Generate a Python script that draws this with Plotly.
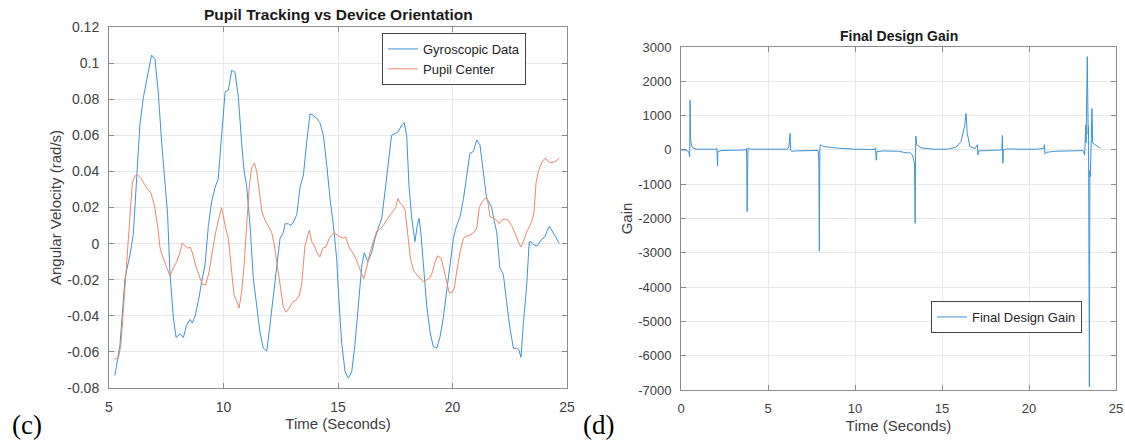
import plotly.graph_objects as go

# ---------------- data ----------------
gyro_t = [5.26, 5.48, 5.70, 5.92, 6.06, 6.21, 6.35, 6.50, 6.64, 6.79, 6.86, 7.01, 7.15, 7.30, 7.45, 7.56,
          7.66, 7.81, 7.93, 8.10, 8.25, 8.39, 8.54, 8.64, 8.76, 8.90, 9.05, 9.19, 9.34, 9.48, 9.63, 9.77,
          9.92, 10.07, 10.21, 10.36, 10.50, 10.65, 10.79, 10.90, 11.01, 11.16, 11.30, 11.45, 11.59, 11.74,
          11.89, 12.03, 12.17, 12.32, 12.47, 12.61, 12.69, 12.83, 12.95, 13.05, 13.20, 13.34, 13.49, 13.63,
          13.78, 13.92, 14.07, 14.21, 14.36, 14.51, 14.65, 14.80, 14.94, 15.01, 15.16, 15.31, 15.45, 15.60,
          15.74, 15.89, 16.04, 16.15, 16.30, 16.47, 16.62, 16.76, 16.91, 17.05, 17.20, 17.34, 17.49, 17.63,
          17.78, 17.89, 18.00, 18.10, 18.22, 18.36, 18.46, 18.54, 18.62, 18.73, 18.87, 19.02, 19.16, 19.31,
          19.45, 19.60, 19.75, 19.89, 20.04, 20.18, 20.33, 20.48, 20.62, 20.76, 20.91, 21.06, 21.20, 21.35,
          21.49, 21.61, 21.71, 21.83, 21.93, 22.07, 22.22, 22.36, 22.51, 22.66, 22.80, 22.90, 22.99, 23.09,
          23.24, 23.35, 23.43, 23.56, 23.70, 23.82, 23.94, 24.04, 24.11, 24.23, 24.40, 24.55, 24.67]
gyro_v = [-0.073, -0.056, -0.019, -0.006, 0.005, 0.038, 0.066, 0.081, 0.090, 0.099, 0.1045, 0.102, 0.084,
          0.056, 0.031, 0.016, -0.016, -0.041, -0.052, -0.050, -0.052, -0.045, -0.042, -0.044, -0.040,
          -0.032, -0.021, -0.012, 0.010, 0.023, 0.031, 0.036, 0.060, 0.084, 0.085, 0.096, 0.095, 0.081,
          0.056, 0.040, 0.032, 0.010, -0.019, -0.036, -0.049, -0.058, -0.0595, -0.045, -0.030, -0.012,
          0.003, 0.006, 0.011, 0.011, 0.010, 0.012, 0.016, 0.031, 0.038, 0.056, 0.072, 0.071, 0.0695,
          0.067, 0.060, 0.0435, 0.025, 0.010, -0.008, -0.025, -0.055, -0.071, -0.0745, -0.071, -0.056,
          -0.034, -0.012, -0.005, -0.010, -0.005, 0.003, 0.0086, 0.014, 0.0286, 0.0435, 0.060, 0.061,
          0.062, 0.0657, 0.067, 0.060, 0.032, 0.014, 0.001, 0.010, 0.014, 0.006, -0.012, -0.034, -0.049,
          -0.057, -0.058, -0.052, -0.041, -0.027, -0.014, 0.003, 0.010, 0.015, 0.025, 0.038, 0.050, 0.051,
          0.0574, 0.0546, 0.040, 0.025, 0.0225, 0.020, 0.012, 0.0065, -0.0135, -0.017, -0.032, -0.047,
          -0.058, -0.058, -0.059, -0.063, -0.045, -0.023, 0.001, 0.001, -0.0008, -0.0013, 0.001, 0.003,
          0.0037, 0.0065, 0.0097, 0.006, 0.002, 0.000]

pupil_t = [5.23, 5.41, 5.52, 5.63, 5.77, 5.92, 6.02, 6.14, 6.25, 6.40, 6.54, 6.69, 6.83, 6.98, 7.13, 7.23,
           7.37, 7.52, 7.66, 7.81, 7.96, 8.10, 8.20, 8.32, 8.44, 8.54, 8.64, 8.78, 8.93, 9.07, 9.22, 9.37,
           9.51, 9.66, 9.80, 9.92, 10.07, 10.21, 10.36, 10.46, 10.58, 10.68, 10.79, 10.90, 11.01, 11.13,
           11.23, 11.35, 11.45, 11.56, 11.68, 11.81, 11.96, 12.10, 12.22, 12.34, 12.47, 12.61, 12.73, 12.87,
           13.02, 13.17, 13.31, 13.41, 13.56, 13.66, 13.75, 13.85, 13.97, 14.07, 14.21, 14.33, 14.47, 14.62,
           14.80, 14.97, 15.19, 15.33, 15.48, 15.62, 15.77, 15.89, 16.00, 16.12, 16.25, 16.40, 16.54, 16.69,
           16.83, 16.98, 17.12, 17.27, 17.42, 17.52, 17.61, 17.71, 17.81, 17.93, 18.05, 18.16, 18.29, 18.44,
           18.58, 18.73, 18.87, 19.02, 19.12, 19.24, 19.35, 19.50, 19.60, 19.75, 19.85, 19.96, 20.08, 20.18,
           20.33, 20.48, 20.62, 20.76, 20.91, 21.06, 21.17, 21.28, 21.42, 21.52, 21.64, 21.78, 21.93, 22.04,
           22.14, 22.29, 22.43, 22.58, 22.73, 22.87, 22.99, 23.09, 23.24, 23.38, 23.48, 23.56, 23.65, 23.75,
           23.90, 24.04, 24.23, 24.40, 24.55, 24.67]
pupil_v = [-0.064, -0.0635, -0.056, -0.036, -0.008, 0.017, 0.034, 0.0375, 0.038, 0.036, 0.033, 0.030, 0.028,
           0.0214, 0.009, -0.0025, -0.008, -0.0135, -0.018, -0.0135, -0.010, -0.0047, 0.0003, -0.0013,
           -0.0025, -0.0019, -0.005, -0.012, -0.0174, -0.0224, -0.023, -0.0157, -0.0047, 0.0064, 0.0142,
           0.020, 0.010, 0.003, -0.016, -0.0285, -0.032, -0.0357, -0.027, -0.012, 0.010, 0.0325, 0.042,
           0.0447, 0.040, 0.0286, 0.0175, 0.013, 0.0092, 0.0064, -0.0008, -0.012, -0.0246, -0.035, -0.038,
           -0.0357, -0.0324, -0.0313, -0.0285, -0.023, -0.0008, 0.003, 0.0075, 0.001, -0.0013, -0.0047,
           -0.0074, -0.0025, -0.0019, 0.003, 0.0059, 0.0048, 0.003, 0.0037, -0.0019, -0.0047, -0.008, -0.012,
           -0.0157, -0.0196, -0.0135, -0.0047, 0.001, 0.007, 0.008, 0.010, 0.013, 0.0158, 0.0186, 0.020,
           0.025, 0.0225, 0.0214, 0.0186, 0.0048, -0.008, -0.0146, -0.0174, -0.019, -0.0213, -0.020, -0.019,
           -0.0157, -0.010, -0.0068, -0.008, -0.013, -0.0213, -0.027, -0.0274, -0.0246, -0.0157, -0.0047,
           0.003, 0.0042, 0.0048, 0.0059, 0.0086, 0.020, 0.023, 0.025, 0.025, 0.0148, 0.0142, 0.013, 0.011,
           0.013, 0.0136, 0.013, 0.010, 0.0059, 0.001, -0.0019, 0.001, 0.0064, 0.010, 0.013, 0.0175, 0.034,
           0.040, 0.045, 0.0474, 0.045, 0.045, 0.046, 0.0474]

gain_t = [0.0, 0.3, 0.45, 0.5, 0.51, 0.52, 0.55, 0.6, 0.7, 0.9, 1.5, 2.0, 2.06, 2.08, 2.10, 2.12, 2.3, 3.0,
          3.6, 3.74, 3.76, 3.78, 3.80, 3.82, 3.85, 4.0, 5.0, 6.1, 6.2, 6.27, 6.30, 6.35, 6.6, 7.5, 7.88,
          7.92, 7.95, 7.98, 8.0, 8.2, 9.0, 10.0, 11.15, 11.18, 11.22, 11.26, 11.6, 12.5, 12.8, 13.0, 13.1,
          13.3, 13.42, 13.46, 13.48, 13.50, 13.55, 13.8, 14.5, 15.3, 15.8, 16.1, 16.3, 16.38, 16.45, 16.6,
          16.9, 17.03, 17.07, 17.1, 17.5, 18.3, 18.44, 18.47, 18.50, 18.53, 18.7, 19.5, 20.5, 20.86, 20.88,
          20.92, 21.0, 21.5, 22.5, 23.1, 23.2, 23.26, 23.28, 23.30, 23.35, 23.40, 23.42, 23.47, 23.50,
          23.52, 23.58, 23.62, 23.66, 23.8, 24.0, 24.1]
gain_v = [0, -10, -60, -200, 400, 1450, 300, 120, 50, 20, 10, 20, 50, -100, -460, -50, -20, -10, -5, 0, 40,
          -300, -1800, -200, 50, 20, 10, 20, 100, 480, 0, -40, -30, -20, -15, -300, -2950, 0, 150, 100, 50,
          20, 10, 60, -300, -50, -30, -40, -70, -90, -60, -150, -400, -2140, 0, 400, 150, 60, 20, 20, 80,
          250, 700, 1067, 500, 100, 40, 150, -150, -30, -20, -10, 0, 420, -390, 0, 30, 20, 20, 50, 150,
          -120, -70, -40, -20, -20, -150, 730, 200, 700, 2720, 450, 700, -6900, -600, -780, 300, 1210, 200,
          150, 80, 50]

left_ytick_vals = [0.12, 0.1, 0.08, 0.06, 0.04, 0.02, 0, -0.02, -0.04, -0.06, -0.08]
left_ytick_text = ["0.12", "0.1", "0.08", "0.06", "0.04", "0.02", "0", "-0.02", "-0.04", "-0.06", "-0.08"]
left_xticks = [5, 10, 15, 20, 25]
right_ytick_vals = [3000, 2000, 1000, 0, -1000, -2000, -3000, -4000, -5000, -6000, -7000]
right_ytick_text = ["3000", "2000", "1000", "0", "-1000", "-2000", "-3000", "-4000", "-5000", "-6000", "-7000"]
right_xticks = [0, 5, 10, 15, 20, 25]

# ---------------- styling ----------------
FONT = "Liberation Sans, Arial, Helvetica, sans-serif"
BLUE = "#3f93d2"
ORANGE = "#e8886a"
W, H = 1125, 440

fig = go.Figure()
fig.add_trace(go.Scatter(x=gyro_t, y=gyro_v, mode="lines", name="Gyroscopic Data",
                         line=dict(color=BLUE, width=1), xaxis="x", yaxis="y", legend="legend"))
fig.add_trace(go.Scatter(x=pupil_t, y=pupil_v, mode="lines", name="Pupil Center",
                         line=dict(color=ORANGE, width=1), xaxis="x", yaxis="y", legend="legend"))
fig.add_trace(go.Scatter(x=gain_t, y=gain_v, mode="lines", name="Final Design Gain",
                         line=dict(color=BLUE, width=1), xaxis="x2", yaxis="y2", legend="legend2"))


def axis_style(tick_size, title_size):
    return dict(showline=True, linecolor="#8c8c8c", linewidth=1, mirror="allticks", ticks="inside",
                ticklen=5, tickcolor="#8c8c8c", showgrid=True, gridcolor="#e8e8e8", gridwidth=1,
                zeroline=False, automargin=False, ticklabelstandoff=6,
                tickfont=dict(family=FONT, size=tick_size, color="#404040"),
                title_font=dict(family=FONT, size=title_size, color="#404040"))


L = axis_style(14, 15)
R = axis_style(13, 15)

fig.update_layout(
    width=W, height=H, paper_bgcolor="white", plot_bgcolor="white",
    margin=dict(l=0, r=0, t=0, b=0),
    font=dict(family=FONT),
    xaxis=dict(L, domain=[109 / W, 567 / W], range=[5, 25], tickvals=left_xticks,
               title=dict(text="Time (Seconds)", standoff=4), anchor="y"),
    yaxis=dict(L, domain=[1 - 388 / H, 1 - 27 / H], range=[-0.08, 0.12], tickvals=left_ytick_vals,
               ticktext=left_ytick_text, title=dict(text="Angular Velocity (rad/s)", standoff=2), anchor="x"),
    xaxis2=dict(R, domain=[681 / W, 1116 / W], range=[0, 25], tickvals=right_xticks,
                title=dict(text="Time (Seconds)", standoff=5), anchor="y2"),
    yaxis2=dict(R, domain=[1 - 390 / H, 1 - 47 / H], range=[-7000, 3000], tickvals=right_ytick_vals,
                ticktext=right_ytick_text, title=dict(text="Gain", standoff=1), anchor="x2"),
    legend=dict(x=526 / W, y=1 - 33 / H, xanchor="right", yanchor="top", bgcolor="white",
                bordercolor="#444444", borderwidth=1, font=dict(family=FONT, size=13, color="#262626"),
                tracegroupgap=0, itemwidth=30),
    legend2=dict(x=1082 / W, y=1 - 301 / H, xanchor="right", yanchor="top", bgcolor="white",
                 bordercolor="#444444", borderwidth=1, font=dict(family=FONT, size=13, color="#262626"),
                 itemwidth=30),
    annotations=[
        dict(text="<b>Pupil Tracking vs Device Orientation</b>", x=338 / W, y=1 - 14 / H, xref="paper",
             yref="paper", showarrow=False, xanchor="center", yanchor="middle",
             font=dict(family=FONT, size=15.5, color="#1a1a1a")),
        dict(text="<b>Final Design Gain</b>", x=899 / W, y=1 - 36 / H, xref="paper", yref="paper",
             showarrow=False, xanchor="center", yanchor="middle",
             font=dict(family=FONT, size=14, color="#1a1a1a")),
        dict(text="(c)", x=27 / W, y=1 - 425 / H, xref="paper", yref="paper", showarrow=False,
             xanchor="center", yanchor="middle",
             font=dict(family="Liberation Serif, Times New Roman, serif", size=27, color="#000000")),
        dict(text="(d)", x=598 / W, y=1 - 425 / H, xref="paper", yref="paper", showarrow=False,
             xanchor="center", yanchor="middle",
             font=dict(family="Liberation Serif, Times New Roman, serif", size=27, color="#000000")),
    ],
)

fig.write_html("out.html")
